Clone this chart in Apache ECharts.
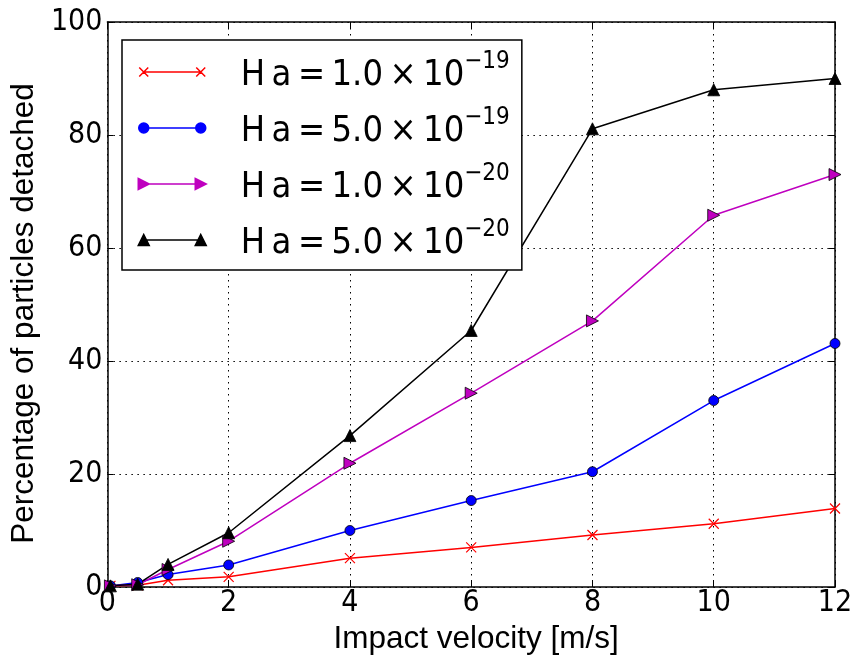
<!DOCTYPE html>
<html>
<head>
<meta charset="utf-8">
<script src="https://cdn.jsdelivr.net/npm/echarts@6/dist/echarts.min.js"></script>
<style>
html,body{margin:0;padding:0;background:#fff;}
#chart{width:857px;height:661px;}
</style>
</head>
<body>
<div id="chart"></div>
<script>
// ---- data ----
var velocities = [0.05, 0.5, 1, 2, 4, 6, 8, 10, 12];
var ha1e19 = [0.2, 0.3, 1.2, 1.8, 5.1, 7.0, 9.2, 11.2, 13.9];
var ha5e19 = [0.2, 0.8, 2.2, 3.9, 10.0, 15.3, 20.4, 33.0, 43.1];
var ha1e20 = [0.2, 0.4, 3.1, 8.1, 21.9, 34.3, 47.1, 65.8, 73.0];
var ha5e20 = [0.2, 0.5, 4.0, 9.6, 26.8, 45.4, 81.1, 88.0, 90.0];
var seriesMant = ['1.0', '5.0', '1.0', '5.0'];
var seriesExp = ['\u221219', '\u221219', '\u221220', '\u221220'];
var seriesColors = ['#ff0000', '#0000ff', '#bf00bf', '#000000'];
var xTicks = [0, 2, 4, 6, 8, 10, 12];
var yTicks = [0, 20, 40, 60, 80, 100];
var xLabel = 'Impact velocity [m/s]';
var yLabel = 'Percentage of particles detached';

var names = seriesMant.map(function (m, i) { return 'Ha' + i; });
function pairs(ys) { return velocities.map(function (x, i) { return [x, ys[i]]; }); }

var tickFont = "'Liberation Sans Narrow', 'DejaVu Sans Condensed', 'Liberation Sans', sans-serif";
var labelFont = "'Liberation Sans', Arial, sans-serif";
var legendFont = "'DejaVu Sans Condensed', 'DejaVu Sans', sans-serif";

// legend sample glyphs: line with a marker at each end (matplotlib style)
var frame = 'M0,0M69,12';
var line = 'M6,6L63,6';
var legendIcons = [
  'path://' + frame + line + 'M1.5,1.5L10.5,10.5M1.5,10.5L10.5,1.5M58.5,1.5L67.5,10.5M58.5,10.5L67.5,1.5',
  'path://' + frame + line + 'M1,6a5,5 0 1,0 10,0a5,5 0 1,0 -10,0ZM58,6a5,5 0 1,0 10,0a5,5 0 1,0 -10,0Z',
  'path://' + frame + line + 'M0.5,0.5L11.5,6L0.5,11.5ZM57.5,0.5L68.5,6L57.5,11.5Z',
  'path://' + frame + line + 'M6,0.5L11.5,11.5L0.5,11.5ZM63,0.5L68.5,11.5L57.5,11.5Z'
];

var chart = echarts.init(document.getElementById('chart'), null, {renderer: 'canvas'});

var gridLine = {show: true, lineStyle: {color: '#000', width: 1, type: [1.5, 4.5]}};
var spine = {show: true, onZero: false, lineStyle: {color: '#000', width: 1.5}};
var tick = {show: true, inside: true, length: 6, lineStyle: {color: '#000', width: 1}};

var option = {
  animation: false,
  backgroundColor: '#fff',
  grid: {left: 105, right: 22, top: 22, bottom: 74, containLabel: false},
  legend: {
    data: names.map(function (n, i) {
      return {
        name: n, icon: legendIcons[i],
        itemStyle: {color: seriesColors[i], borderColor: seriesColors[i], borderWidth: 1.5}
      };
    }),
    orient: 'vertical',
    left: 122, top: 40,
    backgroundColor: '#fff',
    borderColor: '#000', borderWidth: 1.5, borderRadius: 0,
    padding: [10, 12, 8, 15],
    itemGap: 12,
    itemWidth: 69, itemHeight: 12,
    symbolKeepAspect: false,
    selectedMode: false,
    formatter: function (n) {
      var i = names.indexOf(n);
      return '{m|H\u2009a\u2009=\u2009' + seriesMant[i] + '\u2009\u00d7\u200910}{s|' + seriesExp[i] + '}';
    },
    textStyle: {
      color: '#000', fontFamily: legendFont,
      rich: {
        m: {fontSize: 36, lineHeight: 44, fontFamily: legendFont, color: '#000', padding: [0, 0, 0, 29], verticalAlign: 'bottom'},
        s: {fontSize: 24, lineHeight: 24, fontFamily: legendFont, color: '#000', verticalAlign: 'top'}
      }
    }
  },
  xAxis: [{
    type: 'value', min: 0, max: 12, interval: 2, position: 'bottom',
    axisLine: spine, axisTick: tick, splitLine: gridLine,
    axisLabel: {color: '#000', fontSize: 30, fontFamily: tickFont, margin: 1,
      formatter: function (v) { return xTicks.indexOf(v) >= 0 ? String(v) : ''; }},
    name: xLabel, nameLocation: 'middle', nameGap: 34,
    nameTextStyle: {color: '#000', fontSize: 31.5, fontFamily: labelFont, padding: [0, 0, 0, 10]}
  }, {
    type: 'value', min: 0, max: 12, interval: 2, position: 'top',
    axisLine: spine, axisTick: tick, splitLine: {show: false}, axisLabel: {show: false}
  }],
  yAxis: [{
    type: 'value', min: 0, max: 100, interval: 20, position: 'left',
    axisLine: spine, axisTick: tick, splitLine: gridLine,
    axisLabel: {color: '#000', fontSize: 30, fontFamily: tickFont, margin: 5,
      formatter: function (v) { return yTicks.indexOf(v) >= 0 ? String(v) : ''; }},
    name: yLabel, nameLocation: 'middle', nameGap: 52,
    nameTextStyle: {color: '#000', fontSize: 31.5, fontFamily: labelFont, padding: [0, 0, 0, -18]}
  }, {
    type: 'value', min: 0, max: 100, interval: 20, position: 'right',
    axisLine: spine, axisTick: tick, splitLine: {show: false}, axisLabel: {show: false}
  }],
  series: [{
    name: names[0], type: 'line', data: pairs(ha1e19),
    symbol: 'path://M0,0L10,10M0,10L10,0', symbolSize: 10,
    lineStyle: {color: seriesColors[0], width: 1.5},
    itemStyle: {color: seriesColors[0], borderColor: seriesColors[0], borderWidth: 1.2}
  }, {
    name: names[1], type: 'line', data: pairs(ha5e19),
    symbol: 'circle', symbolSize: 10,
    lineStyle: {color: seriesColors[1], width: 1.5},
    itemStyle: {color: seriesColors[1], borderColor: '#000', borderWidth: 0.8}
  }, {
    name: names[2], type: 'line', data: pairs(ha1e20),
    symbol: 'triangle', symbolSize: 12, symbolRotate: -90,
    lineStyle: {color: seriesColors[2], width: 1.5},
    itemStyle: {color: seriesColors[2], borderColor: '#000', borderWidth: 0.8}
  }, {
    name: names[3], type: 'line', data: pairs(ha5e20),
    symbol: 'triangle', symbolSize: 12,
    lineStyle: {color: seriesColors[3], width: 1.5},
    itemStyle: {color: seriesColors[3], borderColor: '#000', borderWidth: 0.8}
  }]
};
chart.setOption(option);
</script>
</body>
</html>
